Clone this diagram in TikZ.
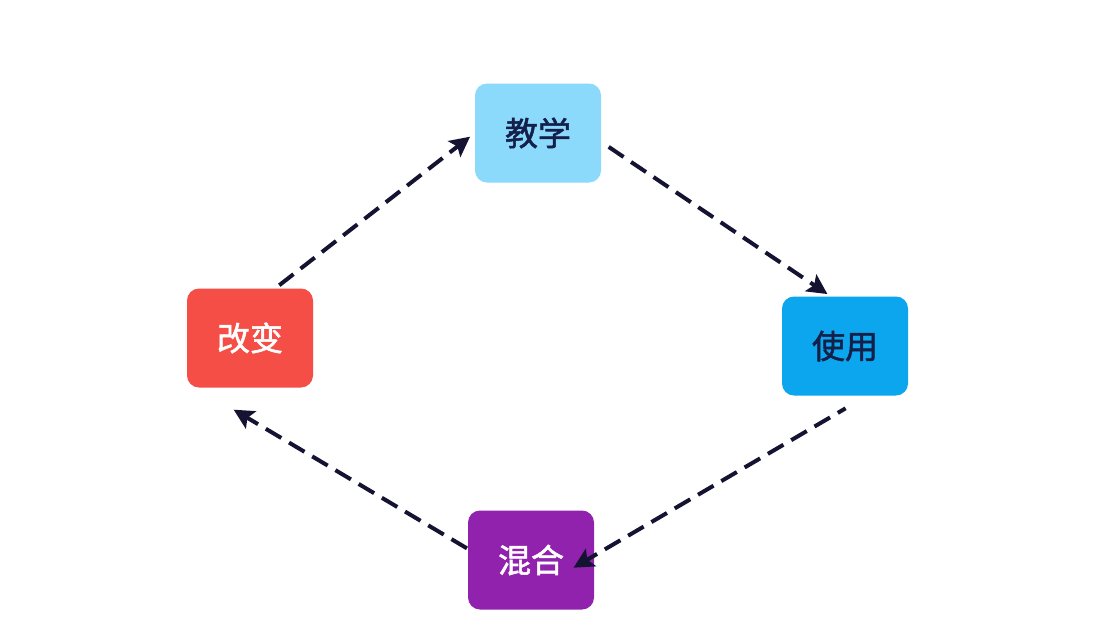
\documentclass[tikz,border=0pt]{standalone}
\usepackage{fontspec}
\newfontfamily\cjk[FakeBold = 1.6]{Noto Sans CJK SC}
\usetikzlibrary{arrows.meta}

\definecolor{lightsky}{HTML}{8BD9FB}
\definecolor{skyblue}{HTML}{0BA6EE}
\definecolor{violet}{HTML}{9022AE}
\definecolor{tomato}{HTML}{F44E47}
\definecolor{navy}{HTML}{15204A}
\definecolor{arrowink}{HTML}{141432}

\begin{document}
\begin{tikzpicture}[x = 1pt, y = -1pt,
  box/.style = {rounded corners = 12pt, minimum width = 126pt, minimum height = 99pt,
                inner sep = 0pt, font = \cjk\fontsize{33}{33}\selectfont},
  flow/.style = {draw = arrowink, line width = 4pt, dash pattern = on 18pt off 9pt,
                 -{Stealth[length = 20pt, width = 20pt, inset = 4pt]}}]

\useasboundingbox[fill = white] (0, 0) rectangle (1110, 626);

\node[box, fill = lightsky, text = navy] (jiaoxue) at (538, 133) {教学};
\node[box, fill = skyblue, text = navy] (shiyong) at (845, 346) {使用};
\node[box, fill = violet, text = white] (hunhe) at (531, 560) {混合};
\node[box, fill = tomato, text = white] (gaibian) at (250, 338) {改变};

\draw[flow, shorten < = 5pt, shorten > = 6pt] (gaibian.63) -- (jiaoxue.west);
\draw[flow, shorten < = 9pt, shorten > = 4pt] (jiaoxue.-8) -- (shiyong.106);
\draw[flow, shorten < = 25pt, shorten > = -24pt, dash phase = 9pt] (shiyong.-66) -- (hunhe.4);
\draw[flow, shorten < = 1pt, shorten > = 43pt] (hunhe.170) -- (gaibian.223);

\end{tikzpicture}
\end{document}
